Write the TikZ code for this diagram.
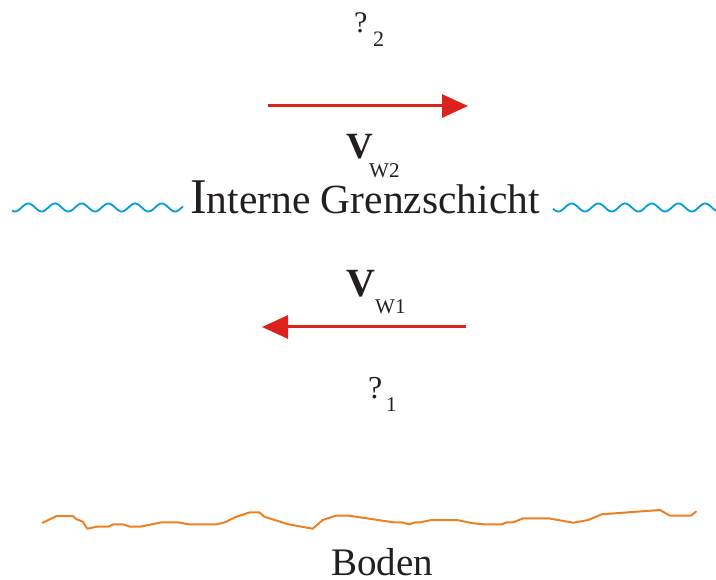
\documentclass[tikz,border=0pt]{standalone}
\usepackage{fontspec}
\setmainfont{Liberation Serif}
\usetikzlibrary{arrows.meta}
\definecolor{arrowred}{RGB}{221,34,30}
\definecolor{waveblue}{RGB}{0,155,225}
\definecolor{groundorange}{RGB}{238,128,34}
\definecolor{ink}{RGB}{35,31,32}
\tikzset{
  lbl/.style={inner sep=0pt, anchor=base west, text=ink, text depth=0pt},
  flow/.style={draw=arrowred, line width=3pt, -{Triangle[length=26pt,width=23pt]}},
  wave/.style={draw=waveblue, line width=1.8pt},
  ground/.style={draw=groundorange, line width=2pt, line join=round, line cap=round}
}
\begin{document}
\begin{tikzpicture}[x=1pt,y=-1pt]
\useasboundingbox (0,0) rectangle (716,580);
% labels
\node[lbl] (rho2) at (354,33) {\fontsize{30}{30}\selectfont ?};
\node[lbl] (rho2s) at (373,47) {\fontsize{22}{22}\selectfont 2};
\node[lbl] (vw2) at (346,159) {\fontsize{37}{37}\selectfont\bfseries V};
\node[lbl] (vw2s) at (369,178) {\fontsize{21}{21}\selectfont W2};
\node[lbl] (ig) at (190,214) {{\fontsize{50}{50}\selectfont I}{\fontsize{41.5}{41.5}\selectfont nterne Grenzschicht}};
\node[lbl] (vw1) at (346,297) {\fontsize{40}{40}\selectfont\bfseries V};
\node[lbl] (vw1s) at (375,314) {\fontsize{21}{21}\selectfont W1};
\node[lbl] (rho1) at (368,399) {\fontsize{32}{32}\selectfont ?};
\node[lbl] (rho1s) at (386,412) {\fontsize{21}{21}\selectfont 1};
\node[lbl] (boden) at (331,575) {\fontsize{39}{39}\selectfont Boden};
% arrows
\coordinate (a2s) at (268,106);
\coordinate (a2e) at (468,106);
\coordinate (a1s) at (466,327);
\coordinate (a1e) at (262,327);
\draw[flow] (a2s) -- (a2e);
\draw[flow] (a1s) -- (a1e);
% waves
\draw[wave] plot[domain=12:183, samples=120, smooth] (\x, {207.5 - 4*cos(13.483*(\x-28.3))});
\draw[wave] plot[domain=553:716, samples=120, smooth] (\x, {207.5 - 4*cos(13.483*(\x-571.7))});
% ground
\draw[ground] (42.7,522.7) -- (56.7,516) -- (72.7,516) -- (76.7,519.3) -- (82.7,521.7) -- (87.3,528.7) -- (96.7,526.7) -- (108.3,526.7) -- (113.3,524.3) -- (122.7,524.3) -- (130,526.7) -- (140,526.7) -- (161.7,522.3) -- (178.3,522.3) -- (188.3,524.3) -- (216.7,524.3) -- (225,522.3) -- (235,517.3) -- (250,512.3) -- (259.3,512.3) -- (264.3,516.7) -- (288.3,524.3) -- (312.7,528.7) -- (322.7,520) -- (336,515.7) -- (349.3,515.7) -- (360,517.3) -- (393.3,522.3) -- (401.7,522.3) -- (409.3,524.3) -- (415,522.3) -- (420,522.3) -- (431.7,520) -- (456.7,520) -- (473.3,523.3) -- (483.3,524.3) -- (501.7,524.3) -- (506.7,522.3) -- (513.3,522.3) -- (523.3,518.3) -- (548.3,518.3) -- (573.3,522.7) -- (588.3,520) -- (601.7,514.3) -- (660,510) -- (670,515.7) -- (691,515.7) -- (696,511.7);
\end{tikzpicture}
\end{document}
